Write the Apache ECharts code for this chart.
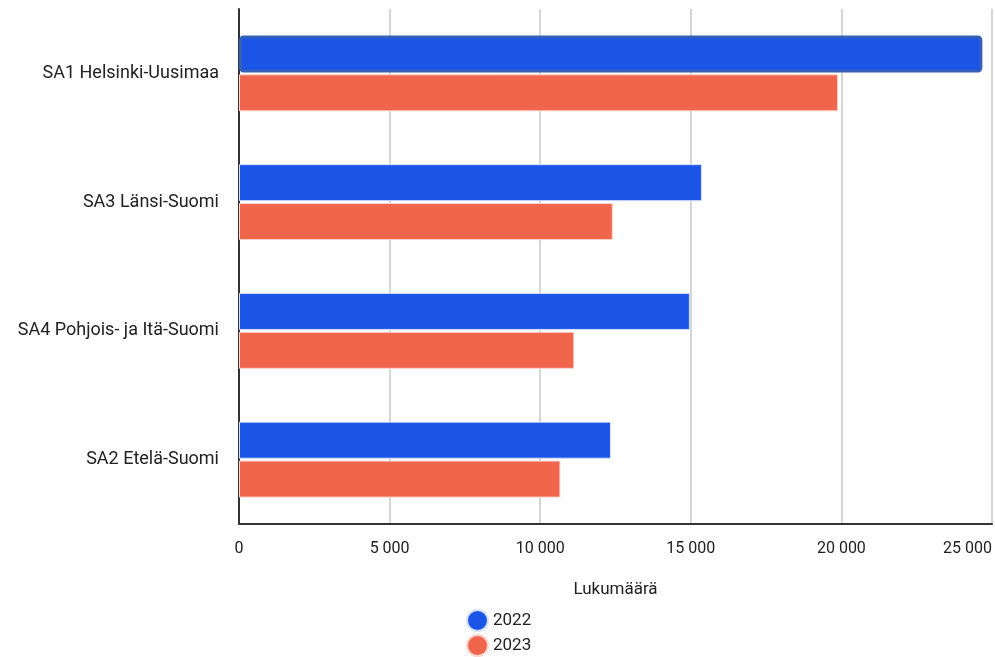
<!DOCTYPE html>
<html><head><meta charset="utf-8">
<script src="https://cdn.jsdelivr.net/npm/echarts@6/dist/echarts.min.js"></script>
<style>html,body{margin:0;padding:0;background:#fff}#c{width:995px;height:657px}</style>
</head><body><div id="c"></div>
<script>
const categories = ['SA1 Helsinki-Uusimaa', 'SA3 Länsi-Suomi', 'SA4 Pohjois- ja Itä-Suomi', 'SA2 Etelä-Suomi'];
const values2022 = [24680, 15370, 14970, 12350];
const values2023 = [19890, 12410, 11130, 10670];
const seriesNames = ['2022', '2023'];
const axisName = 'Lukumäärä';

const fmt = v => String(v).replace(/\B(?=(\d{3})+(?!\d))/g, ' ');
const font = 'Roboto';
const legendBase = {
  orient: 'vertical', left: 466, padding: 0,
  itemWidth: 21, itemHeight: 21, icon: 'circle',
  textStyle: { fontSize: 17, color: '#222', fontFamily: font }
};
const chart = echarts.init(document.getElementById('c'));
chart.setOption({
  animation: false,
  textStyle: { fontFamily: font },
  grid: { left: 239, right: 3, top: 9, bottom: 133, containLabel: false, outerBoundsMode: 'none' },
  legend: [
    Object.assign({}, legendBase, { top: 609, data: [seriesNames[0]] }),
    Object.assign({}, legendBase, { top: 634, data: [seriesNames[1]] })
  ],
  xAxis: {
    type: 'value', min: 0, max: 25000, interval: 5000,
    name: axisName, nameLocation: 'middle', nameGap: 57,
    nameTextStyle: { fontSize: 17, color: '#222', fontFamily: font },
    axisLine: { show: true, onZero: false, lineStyle: { color: '#333', width: 2 } },
    axisTick: { show: false },
    axisLabel: { fontSize: 16, color: '#222', margin: 17, formatter: fmt, fontFamily: font, alignMaxLabel: 'right' },
    splitLine: { show: true, lineStyle: { color: '#c8c8c8', width: 1.5 } }
  },
  yAxis: {
    type: 'category', inverse: true, data: categories,
    axisLine: { show: true, lineStyle: { color: '#333', width: 2 } },
    axisTick: { show: false },
    axisLabel: { fontSize: 18, color: '#222', margin: 20, fontFamily: font }
  },
  series: [
    {
      name: seriesNames[0], type: 'bar', barGap: '5%', barCategoryGap: '41%',
      itemStyle: { color: '#1b55e8', borderColor: '#d6e0fb', borderWidth: 1 },
      data: values2022.map((v, i) => i === 0
        ? { value: v, itemStyle: { borderColor: '#3560b8', borderWidth: 3, borderRadius: 3 } }
        : v)
    },
    {
      name: seriesNames[1], type: 'bar', barGap: '5%', barCategoryGap: '41%',
      itemStyle: { color: '#f2654d', borderColor: '#fbd6cf', borderWidth: 1 },
      data: values2023
    }
  ]
});
</script></body></html>
